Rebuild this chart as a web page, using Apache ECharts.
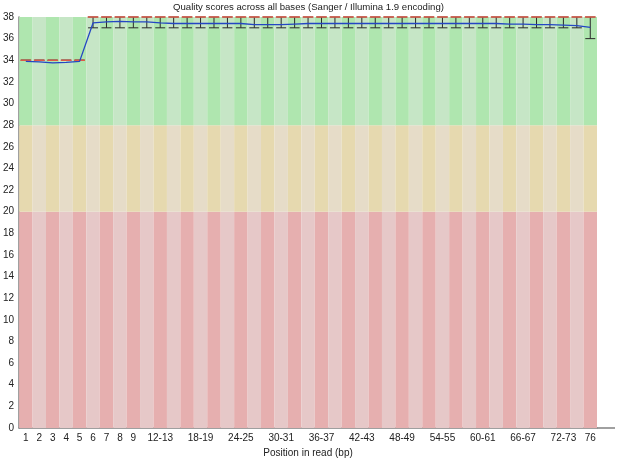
<!DOCTYPE html>
<html>
<head>
<meta charset="utf-8">
<script src="https://cdn.jsdelivr.net/npm/echarts@6/dist/echarts.min.js"></script>
<style>
  html, body { margin: 0; padding: 0; background: #fff; }
  #chart { width: 617px; height: 468px; }
</style>
</head>
<body>
<div id="chart"></div>
<script>
// positions in read: 1..9 singles, then 2-base groups, then 76
const positions = [
  '1', '2', '3', '4', '5', '6', '7', '8', '9',
  '10-11', '12-13', '14-15', '16-17', '18-19', '20-21', '22-23', '24-25',
  '26-27', '28-29', '30-31', '32-33', '34-35', '36-37', '38-39', '40-41',
  '42-43', '44-45', '46-47', '48-49', '50-51', '52-53', '54-55', '56-57',
  '58-59', '60-61', '62-63', '64-65', '66-67', '68-69', '70-71', '72-73',
  '74-75', '76'
];

const meanQuality = [
  33.9, 33.85, 33.75, 33.8, 33.9, 37.45, 37.55, 37.6, 37.55,
  37.55, 37.45, 37.4, 37.4, 37.4, 37.4, 37.4, 37.4,
  37.3, 37.3, 37.3, 37.35, 37.4, 37.4, 37.4, 37.4,
  37.4, 37.4, 37.4, 37.4, 37.4, 37.4, 37.4, 37.4,
  37.4, 37.4, 37.4, 37.35, 37.35, 37.3, 37.3, 37.25,
  37.2, 37.05
];

const medianQuality = [
  34, 34, 34, 34, 34, 38, 38, 38, 38,
  38, 38, 38, 38, 38, 38, 38, 38,
  38, 38, 38, 38, 38, 38, 38, 38,
  38, 38, 38, 38, 38, 38, 38, 38,
  38, 38, 38, 38, 38, 38, 38, 38,
  38, 38
];

// 10th and 90th percentiles (whiskers)
const lowPct = [
  34, 34, 34, 34, 34, 37, 37, 37, 37,
  37, 37, 37, 37, 37, 37, 37, 37,
  37, 37, 37, 37, 37, 37, 37, 37,
  37, 37, 37, 37, 37, 37, 37, 37,
  37, 37, 37, 37, 37, 37, 37, 37,
  37, 36
];
const highPct = medianQuality.slice();

// quality zones: poor 0-20, reasonable 20-28, good 28-38
const zoneSizes = [20, 8, 10];
const zoneColors = [
  ['#e6afaf', '#e6c8c8'],
  ['#e6d9af', '#e6dcc8'],
  ['#afe6af', '#c6e6c6']
];

const chart = echarts.init(document.getElementById('chart'));

const zoneSeries = zoneSizes.map((size, z) => ({
  type: 'bar',
  stack: 'zones',
  silent: true,
  barCategoryGap: '0%',
  data: positions.map(() => size),
  itemStyle: {
    color: p => zoneColors[z][p.dataIndex % 2]
  },
  emphasis: { disabled: true },
  z: 1
}));

const shownLabel = i => i <= 8 || i === positions.length - 1 || (i >= 10 && (i - 10) % 3 === 0);

const option = {
  animation: false,
  textStyle: { fontFamily: 'Liberation Sans, Arial, sans-serif' },
  title: {
    text: 'Quality scores across all bases (Sanger / Illumina 1.9 encoding)',
    left: 'center',
    top: -3,
    textStyle: { fontSize: 9.6, fontWeight: 'normal', color: '#222' }
  },
  grid: { left: 19, right: 20, top: 17, bottom: 40 },
  xAxis: {
    type: 'category',
    data: positions,
    name: 'Position in read (bp)',
    nameLocation: 'middle',
    nameGap: 20,
    nameTextStyle: { fontSize: 10, color: '#222' },
    axisLine: { lineStyle: { color: '#808080', width: 1.5 } },
    axisTick: { show: false },
    axisLabel: {
      interval: (i) => shownLabel(i),
      fontSize: 10,
      color: '#222',
      margin: 5
    }
  },
  yAxis: {
    type: 'value',
    min: 0,
    max: 38,
    interval: 2,
    splitLine: { show: false },
    axisTick: { show: false },
    axisLine: { show: true, lineStyle: { color: '#808080', width: 1.5 } },
    axisLabel: { fontSize: 10, color: '#222', margin: 5 }
  },
  graphic: [{
    type: 'line',
    shape: { x1: 597, y1: 428, x2: 615, y2: 428 },
    style: { stroke: '#808080', lineWidth: 1.5 },
    silent: true
  }],
  series: [
    ...zoneSeries,
    {
      type: 'custom',
      name: 'whiskers',
      silent: true,
      z: 3,
      data: positions.map((p, i) => [i, lowPct[i], highPct[i]]),
      renderItem: (params, api) => {
        const lo = api.coord([api.value(0), api.value(1)]);
        const hi = api.coord([api.value(0), api.value(2)]);
        const half = api.size([1, 0])[0] * 0.37;
        const style = { stroke: '#2a2a2a', lineWidth: 1 };
        return {
          type: 'group',
          children: [
            { type: 'line', shape: { x1: lo[0], y1: lo[1], x2: hi[0], y2: hi[1] }, style },
            { type: 'line', shape: { x1: lo[0] - half, y1: lo[1], x2: lo[0] + half, y2: lo[1] }, style },
            { type: 'line', shape: { x1: hi[0] - half, y1: hi[1], x2: hi[0] + half, y2: hi[1] }, style }
          ]
        };
      }
    },
    {
      type: 'custom',
      name: 'median',
      silent: true,
      z: 4,
      data: positions.map((p, i) => [i, medianQuality[i]]),
      renderItem: (params, api) => {
        const c = api.coord([api.value(0), api.value(1)]);
        const half = api.size([1, 0])[0] * 0.4;
        return {
          type: 'line',
          shape: { x1: c[0] - half, y1: c[1], x2: c[0] + half, y2: c[1] },
          style: { stroke: '#dd5a48', lineWidth: 1.5 }
        };
      }
    },
    {
      type: 'line',
      name: 'mean',
      data: meanQuality,
      symbol: 'none',
      silent: true,
      z: 5,
      lineStyle: { color: '#2446c4', width: 1.3 }
    }
  ]
};

chart.setOption(option);
</script>
</body>
</html>
